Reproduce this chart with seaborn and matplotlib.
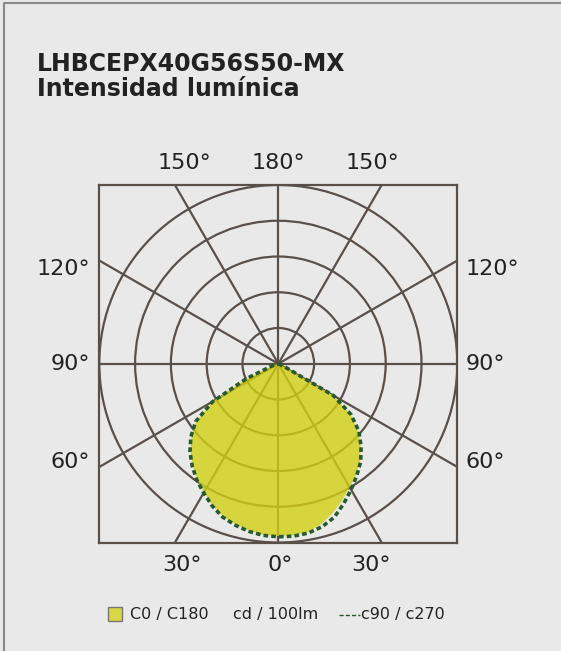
import numpy as np
import matplotlib
matplotlib.use("Agg")
from matplotlib import pyplot as plt
from matplotlib.patches import Circle, Rectangle
from matplotlib.lines import Line2D
import seaborn as sns

# Angles (deg from nadir) and intensities in ring units (rings at 1..5)
gamma = [0, 5, 10, 15, 20, 25, 30, 35, 40, 45, 50, 55, 60, 65, 70, 75, 80, 85, 90]
c0 = [4.82, 4.82, 4.78, 4.64, 4.45, 4.22, 3.98, 3.78, 3.56, 3.25, 2.92, 2.46, 1.75, 0.15, 0.02, 0, 0, 0, 0]
c180 = [4.82, 4.80, 4.74, 4.65, 4.54, 4.36, 4.15, 3.95, 3.72, 3.47, 3.17, 2.80, 2.10, 0.95, 0.20, 0.05, 0, 0, 0]
c90 = [4.84, 4.84, 4.81, 4.72, 4.57, 4.32, 4.07, 3.82, 3.58, 3.27, 2.94, 2.48, 1.78, 0.17, 0.02, 0, 0, 0, 0]
c270 = [4.84, 4.82, 4.76, 4.67, 4.56, 4.38, 4.17, 3.97, 3.74, 3.49, 3.19, 2.82, 2.12, 0.97, 0.22, 0.05, 0, 0, 0]

rings = [1, 2, 3, 4, 5]
spokes = [0, 30, 60, 90, 120, 150, 180, 210, 240, 270, 300, 330]

left_labels = ["120°", "90°", "60°"]
right_labels = ["120°", "90°", "60°"]
top_labels = ["150°", "180°", "150°"]
bottom_labels = ["30°", "0°", "30°"]

title = "LHBCEPX40G56S50-MX"
subtitle = "Intensidad lumínica"

BG = "#e9e9e9"
GRID = "#5a4f49"
YELLOW = "#d3d012"
GREEN = "#275a2e"
TEXT = "#222222"

sns.set_theme(style="white")
plt.rcParams['font.family'] = ['DejaVu Sans']


def to_xy(angles, values, side):
    a = np.radians(np.asarray(angles, dtype=float))
    r = np.asarray(values, dtype=float)
    return side * r * np.sin(a), -r * np.cos(a)


def closed_curve(right_vals, left_vals):
    xr, yr = to_xy(gamma, right_vals, 1)
    xl, yl = to_xy(gamma, left_vals, -1)
    x = np.concatenate([xr[::-1], xl[1:]])
    y = np.concatenate([yr[::-1], yl[1:]])
    return x, y


fig = plt.figure(figsize=(5.61, 6.51), dpi=100, facecolor=BG)
ax = fig.add_axes([99.3 / 561, 1 - 542.5 / 651, 358 / 561, 357.5 / 651])
ax.set_facecolor(BG)
ax.set_xlim(-5, 5)
ax.set_ylim(-5, 5)

# grid
for r in rings:
    ax.add_patch(Circle((0, 0), r, fill=False, ec=GRID, lw=1.6, zorder=1))
for s in spokes:
    a = np.radians(s)
    ax.plot([0, 10 * np.sin(a)], [0, -10 * np.cos(a)], color=GRID, lw=1.6, zorder=1)

# C0 / C180 filled
fx, fy = closed_curve(c0, c180)
ax.fill(fx, fy, color=YELLOW, alpha=0.8, lw=0, zorder=2)

# c90 / c270 dashed
dx, dy = closed_curve(c90, c270)
sns.lineplot(x=dx, y=dy, sort=False, estimator=None, ax=ax, color=GREEN, lw=2.6,
             zorder=3, linestyle=(0, (1.3, 0.85)))

for sp in ax.spines.values():
    sp.set_color(GRID)
    sp.set_linewidth(1.6)
ax.set_xticks([])
ax.set_yticks([])
ax.set_xlabel("")
ax.set_ylabel("")

# angle labels
fs = 16
for lab, y in zip(left_labels, [2.64, 0, -2.75]):
    ax.text(-5.25, y, lab, ha="right", va="center", fontsize=fs, color=TEXT, clip_on=False)
for lab, y in zip(right_labels, [2.64, 0, -2.75]):
    ax.text(5.22, y, lab, ha="left", va="center", fontsize=fs, color=TEXT, clip_on=False)
for lab, x in zip(top_labels, [-2.62, 0, 2.62]):
    ax.text(x, 5.62, lab, ha="center", va="center", fontsize=fs, color=TEXT, clip_on=False)
for lab, x in zip(bottom_labels, [-2.7, 0.05, 2.6]):
    ax.text(x, -5.62, lab, ha="center", va="center", fontsize=fs, color=TEXT, clip_on=False)

# titles
fig.text(37 / 561, 1 - 71 / 651, title, fontsize=17, fontweight="bold", color=TEXT,
         ha="left", va="baseline")
fig.text(37 / 561, 1 - 96 / 651, subtitle, fontsize=17, fontweight="bold", color=TEXT,
         ha="left", va="baseline")

# legend row
fig.patches.append(Rectangle((108 / 561, 1 - 621 / 651), 14 / 561, 14 / 651,
                             transform=fig.transFigure, fc="#d8d645", ec="#777777", lw=1))
fig.text(130 / 561, 1 - 614 / 651, "C0 / C180", fontsize=11.5, color=TEXT, va="center")
fig.text(233 / 561, 1 - 614 / 651, "cd / 100lm", fontsize=11.5, color=TEXT, va="center")
fig.lines.append(Line2D([339 / 561, 360 / 561], [1 - 615 / 651, 1 - 615 / 651],
                        transform=fig.transFigure, color=GREEN, lw=1, linestyle=(0, (3, 1.5))))
fig.text(361 / 561, 1 - 614 / 651, "c90 / c270", fontsize=11.5, color=TEXT, va="center")

# outer frame (top and left edges)
fig.lines.append(Line2D([3.5 / 561, 3.5 / 561, 1], [0, 1 - 3 / 651, 1 - 3 / 651],
                        transform=fig.transFigure, color="#8a8a8a", lw=1.5))

fig.savefig("out.png", dpi=100, facecolor=BG)
